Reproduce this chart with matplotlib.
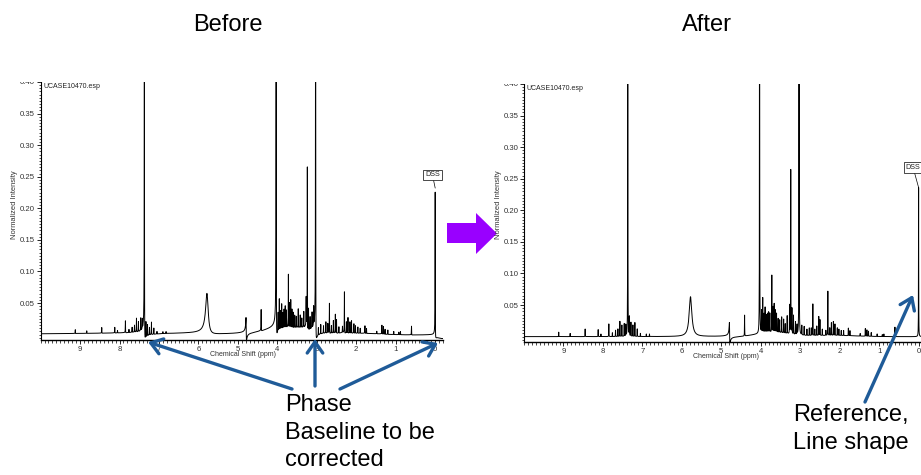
import numpy as np
import matplotlib; matplotlib.use("Agg")
import matplotlib.pyplot as plt
from matplotlib.patches import Polygon, Rectangle, FancyArrowPatch
from matplotlib.ticker import MultipleLocator, FixedLocator, FormatStrFormatter

plt.rcParams["font.family"] = ["Liberation Sans", "DejaVu Sans"]

W, H = 921, 475
BLUE, PURPLE = "#1f5b98", "#9900ff"

# ---- peak table (ppm, apparent height) ----
PPM = [9.12, 8.83, 8.45, 8.12, 8.05, 7.85, 7.76, 7.68, 7.62, 7.57, 7.52, 7.46, 7.42,
       7.37, 7.33, 7.29, 7.24, 7.19, 7.13, 7.05, 6.90, 6.82, 5.78, 4.79, 4.41, 4.03,
       3.98, 3.95, 3.92, 3.89, 3.86, 3.83, 3.80, 3.77, 3.72, 3.69, 3.66, 3.63, 3.60,
       3.56, 3.52, 3.47, 3.42, 3.38, 3.33, 3.27, 3.24, 3.21, 3.17, 3.12, 3.08, 3.03,
       2.96, 2.90, 2.83, 2.77, 2.72, 2.68, 2.63, 2.58, 2.53, 2.50, 2.44, 2.35, 2.30,
       2.25, 2.21, 2.16, 2.12, 2.06, 2.02, 1.96, 1.90, 1.78, 1.74, 1.48, 1.35, 1.31,
       1.27, 1.20, 1.05, 0.92, 0.88, 0.60, 0.00]
H_BEFORE = [0.006, 0.004, 0.009, 0.009, 0.004, 0.019, 0.005, 0.008, 0.011, 0.022, 0.016, 0.020, 0.015,
            0.70, 0.025, 0.018, 0.012, 0.020, 0.010, 0.004, 0.003, 0.003, 0.064, 0.036, 0.034, 0.90,
            0.030, 0.050, 0.030, 0.040, 0.025, 0.030, 0.035, 0.028, 0.085, 0.040, 0.045, 0.030, 0.025,
            0.020, 0.018, 0.030, 0.020, 0.015, 0.025, 0.045, 0.26, 0.035, 0.020, 0.025, 0.030, 0.90,
            0.012, 0.015, 0.012, 0.018, 0.015, 0.048, 0.012, 0.020, 0.030, 0.022, 0.010, 0.010, 0.066,
            0.018, 0.025, 0.018, 0.020, 0.015, 0.012, 0.010, 0.008, 0.012, 0.008, 0.004, 0.014, 0.012,
            0.008, 0.007, 0.005, 0.004, 0.005, 0.014, 0.232]
H_AFTER = [0.007, 0.005, 0.012, 0.011, 0.004, 0.020, 0.006, 0.010, 0.012, 0.024, 0.018, 0.020, 0.018,
           0.70, 0.030, 0.022, 0.018, 0.022, 0.012, 0.005, 0.004, 0.004, 0.063, 0.033, 0.033, 0.90,
           0.035, 0.055, 0.030, 0.040, 0.028, 0.030, 0.032, 0.030, 0.090, 0.040, 0.045, 0.035, 0.030,
           0.022, 0.020, 0.025, 0.022, 0.015, 0.028, 0.045, 0.26, 0.040, 0.030, 0.020, 0.015, 0.90,
           0.015, 0.014, 0.010, 0.012, 0.012, 0.050, 0.010, 0.015, 0.030, 0.025, 0.010, 0.008, 0.070,
           0.012, 0.020, 0.022, 0.018, 0.012, 0.010, 0.008, 0.008, 0.012, 0.008, 0.004, 0.012, 0.010,
           0.008, 0.006, 0.004, 0.003, 0.004, 0.015, 0.236]
# half-widths (ppm): broad water line, distorted 4.79 line, sharp lines elsewhere
WIDTH = [0.04 if p == 5.78 else 0.006 if p == 4.79 else 0.0025 for p in PPM]
PHASE_BEFORE = [70 if p == 4.79 else 12 for p in PPM]    # degrees
PHASE_AFTER = [70 if p == 4.79 else 0 for p in PPM]

# broad background components (centre ppm, height, sigma ppm)
BG_BEFORE = [(3.7, 0.011, 0.5), (2.2, 0.004, 0.7), (7.0, 0.0015, 2.5), (-0.2, -0.005, 0.12)]
BG_AFTER = [(3.7, 0.007, 0.4), (2.2, 0.002, 0.6)]


def spectrum(x, heights, phases, bg):
    y = np.zeros_like(x)
    for c, a, s in bg:
        y += a * np.exp(-(x - c) ** 2 / (2 * s * s))
    for x0, h, w, ph in zip(PPM, heights, WIDTH, phases):
        d = x - x0; phi = np.deg2rad(ph)
        y += h * (w * w * np.cos(phi) + w * d * np.sin(phi)) / (d * d + w * w)
    return y


def px(x, y):
    return x / W, 1 - y / H


x = np.linspace(-0.2, 10.0, 20401)
fig = plt.figure(figsize=(W / 100, H / 100), dpi=100)

panels = [("Before", H_BEFORE, PHASE_BEFORE, BG_BEFORE, 40.6, 82, 340, (-2, 7)),
          ("After", H_AFTER, PHASE_AFTER, BG_AFTER, 524.0, 84, 342, (-4, 12))]
for title, hh, phs, bg, x0px, top, bot, dss_off in panels:
    l, t = px(x0px, top); _, b = px(x0px, bot)
    ax = fig.add_axes([l, b, 402.5 / W, t - b])
    y = spectrum(x, hh, phs, bg)
    ax.plot(x, y, color="black", lw=0.7)
    ax.set_xlim(10.0, -0.2); ax.set_ylim(-0.0085, 0.40)
    for s in ("top", "right"):
        ax.spines[s].set_visible(False)
    ax.spines["left"].set_linewidth(0.8); ax.spines["bottom"].set_linewidth(1.0)
    ax.xaxis.set_major_locator(FixedLocator(range(0, 10)))
    ax.xaxis.set_minor_locator(MultipleLocator(0.1))
    ax.yaxis.set_major_locator(FixedLocator([0.05, 0.10, 0.15, 0.20, 0.25, 0.30, 0.35, 0.40]))
    ax.yaxis.set_minor_locator(MultipleLocator(0.005))
    ax.yaxis.set_major_formatter(FormatStrFormatter("%.2f"))
    ax.tick_params(which="major", length=3, width=0.6, labelsize=5.6, labelcolor="#333", pad=1)
    ax.tick_params(which="minor", length=1.8, width=0.5)
    ax.patch.set_alpha(0)
    iD = PPM.index(0.00)
    ax.annotate("DSS", xy=(0, hh[iD]), xytext=dss_off, textcoords="offset points",
                ha="center", va="bottom", fontsize=5.2, color="#222",
                bbox=dict(boxstyle="square,pad=0.25", fc="white", ec="black", lw=0.5),
                arrowprops=dict(arrowstyle="-", lw=0.5, color="black", shrinkA=0, shrinkB=0))
    fig.text(*px(x0px + 2.5, top + 5), "UCASE10470.esp", fontsize=5, va="center", color="#222")
    fig.text(*px(x0px - 26, 205), "Normalized Intensity", rotation=90, fontsize=5.4,
             va="center", ha="center", color="#333")
    fig.text(*px(x0px + 202, bot + 15), "Chemical Shift (ppm)", fontsize=5, ha="center",
             va="center", color="#333")
    # trim the half-hidden top tick label like the cropped screenshot
    fig.patches.append(Rectangle(px(x0px - 30, top - 0.5), 29, 12 / H, transform=fig.transFigure,
                                 fc="white", ec="none", zorder=5))

fig.text(*px(228, 25), "Before", fontsize=17, ha="center", va="center")
fig.text(*px(707, 25), "After", fontsize=17, ha="center", va="center")

# arrows and captions
for (tx, ty), (hx, hy) in [((292, 389), (148, 342)), ((315, 386), (315, 339)),
                           ((340, 389), (438, 343)), ((865, 402), (913, 295))]:
    fig.add_artist(FancyArrowPatch(
        px(tx, ty), px(hx, hy), transform=fig.transFigure, arrowstyle="->,head_length=5,head_width=3.5",
        color=BLUE, lw=2.4, shrinkA=0, shrinkB=0, mutation_scale=1.6))
fig.text(*px(285, 394), "Phase\nBaseline to be\ncorrected", fontsize=17, va="top", ha="left",
         linespacing=1.33)
fig.text(*px(793, 404), "Reference,\nLine shape", fontsize=17, va="top", ha="left", linespacing=1.33)

arrow = [(447, 223), (476, 223), (476, 213), (497, 233.5), (476, 254), (476, 243), (447, 243)]
fig.add_artist(Polygon([px(a, b) for a, b in arrow], closed=True, transform=fig.transFigure,
                       fc=PURPLE, ec="none"))

fig.savefig("out.png", dpi=100)
